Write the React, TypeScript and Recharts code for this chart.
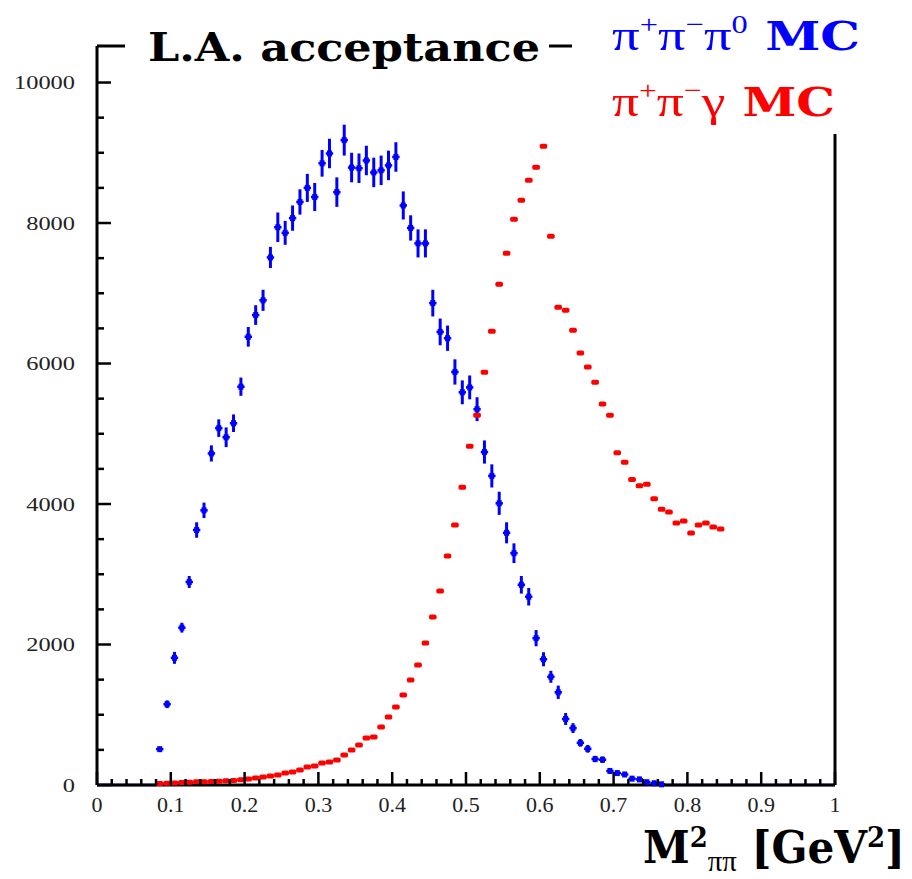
import { ErrorBar, ReferenceLine, Scatter, ScatterChart, XAxis, YAxis } from "recharts";

// bin centres of M^2_pipi [GeV^2]
const bins = [
    0.085, 0.095, 0.105, 0.115, 0.125, 0.135, 0.145, 0.155, 0.165, 0.175,
    0.185, 0.195, 0.205, 0.215, 0.225, 0.235, 0.245, 0.255, 0.265, 0.275,
    0.285, 0.295, 0.305, 0.315, 0.325, 0.335, 0.345, 0.355, 0.365, 0.375,
    0.385, 0.395, 0.405, 0.415, 0.425, 0.435, 0.445, 0.455, 0.465, 0.475,
    0.485, 0.495, 0.505, 0.515, 0.525, 0.535, 0.545, 0.555, 0.565, 0.575,
    0.585, 0.595, 0.605, 0.615, 0.625, 0.635, 0.645, 0.655, 0.665, 0.675,
    0.685, 0.695, 0.705, 0.715, 0.725, 0.735, 0.745, 0.755, 0.765, 0.775,
    0.785, 0.795, 0.805, 0.815, 0.825, 0.835, 0.845,
];

// empty bins of the pi+pi-pi0 histogram (drawn as a flat line on the axis)
const blueEmptyBins = [
    0.005, 0.015, 0.025, 0.035, 0.045, 0.055, 0.065, 0.075,
    0.855, 0.865, 0.875, 0.885, 0.895, 0.905, 0.915, 0.925, 0.935, 0.945,
    0.955, 0.965, 0.975, 0.985, 0.995,
];

// pi+pi-pi0 MC
const blueCounts = [
    510, 1150, 1810, 2240, 2890, 3630, 3910, 4720, 5080, 4950,
    5150, 5670, 6380, 6690, 6900, 7510, 7940, 7860, 8070, 8300,
    8500, 8370, 8850, 8990, 8440, 9180, 8790, 8780, 8890, 8720,
    8750, 8820, 8940, 8250, 7930, 7710, 7710, 6860, 6450, 6360,
    5880, 5590, 5660, 5350, 4740, 4400, 4010, 3590, 3300, 2850,
    2680, 2090, 1790, 1540, 1320, 940, 810, 600, 515, 370,
    360, 200, 170, 150, 90, 80, 40, 25, 10, 0,
    0, 0, 0, 0, 0, 0, 0,
];

const blueErr = [
    30, 55, 85, 70, 85, 110, 110, 115, 125, 140,
    125, 130, 140, 140, 150, 150, 210, 170, 180, 180,
    200, 200, 190, 210, 210, 220, 210, 210, 210, 210,
    210, 210, 210, 200, 180, 200, 200, 190, 190, 180,
    180, 170, 170, 170, 165, 165, 165, 150, 140, 125,
    125, 115, 100, 85, 95, 85, 70, 55, 55, 45,
    45, 40, 35, 30, 25, 25, 20, 15, 10, 0,
    0, 0, 0, 0, 0, 0, 0,
];

// pi+pi-gamma MC
const redCounts = [
    20, 25, 30, 35, 40, 45, 45, 50, 55, 60,
    65, 75, 85, 100, 114, 128, 142, 171, 185, 213,
    256, 270, 313, 327, 356, 427, 498, 569, 669, 683,
    825, 968, 1110, 1281, 1494, 1708, 2021, 2391, 2761, 3259,
    3700, 4240, 4824, 5265, 5877, 6460, 7129, 7570, 8054, 8325,
    8609, 8794, 9093, 7812, 6800, 6760, 6475, 6150, 5950, 5735,
    5422, 5265, 4730, 4596, 4350, 4260, 4283, 4075, 3927, 3885,
    3728, 3757, 3586, 3700, 3728, 3671, 3643,
];

const xMajorTicks = [0, 0.1, 0.2, 0.3, 0.4, 0.5, 0.6, 0.7, 0.8, 0.9, 1];
const yMajorTicks = [0, 2000, 4000, 6000, 8000, 10000];

const HALF_BIN = 0.005;
const Y_MAX = 10520;
const GREEK = "Liberation Serif";

const xTicks: number[] = [];
for (let i = 0; i <= 50; i++) xTicks.push(Math.round(i * 2) / 100);
const yTicks: number[] = [];
for (let i = 0; i <= 20; i++) yTicks.push(i * 500);

const blueData = [
    ...blueEmptyBins.map((m) => ({ m, n: 0, ex: HALF_BIN, ey: 0, empty: true })),
    ...bins.map((m, i) => ({ m, n: blueCounts[i], ex: HALF_BIN, ey: blueErr[i], empty: blueCounts[i] === 0 })),
];
const redData = bins.map((m, i) => ({ m, n: redCounts[i], ex: HALF_BIN }));

const isMajorX = (v: number) => xMajorTicks.some((t) => Math.abs(t - v) < 1e-6);

function XTick(props: any) {
    const { x, y, payload } = props;
    const v = payload.value as number;
    const major = isMajorX(v);
    const label = v === 0 ? "0" : v === 1 ? "1" : v.toFixed(1);
    return (
        <g>
            <line x1={x} x2={x} y1={y} y2={y - (major ? 13 : 6)} stroke="#000" strokeWidth={2.5} />
            {major && (
                <text x={x} y={y + 27} textAnchor="middle" fontFamily="Liberation Serif" fontSize={22} fill="#222">
                    {label}
                </text>
            )}
        </g>
    );
}

function YTick(props: any) {
    const { x, y, payload } = props;
    const v = payload.value as number;
    const major = yMajorTicks.includes(v);
    const label = String(v);
    return (
        <g>
            <line x1={x} x2={x + (major ? 14 : 7)} y1={y} y2={y} stroke="#000" strokeWidth={2.5} />
            {major && (
                <text
                    x={x - 22}
                    y={y + 6.5}
                    textAnchor="end"
                    fontFamily="Liberation Serif"
                    fontSize={19}
                    fill="#222"
                    textLength={label.length * 12.2}
                    lengthAdjust="spacingAndGlyphs"
                >
                    {label}
                </text>
            )}
        </g>
    );
}

function BlueMarker(props: any) {
    const { cx, cy, payload } = props;
    if (payload?.empty) return <g />;
    return <rect x={cx - 2.5} y={cy - 3} width={5} height={6} fill="#0000ff" />;
}

function RedMarker(props: any) {
    const { cx, cy } = props;
    return <rect x={cx - 3.5} y={cy - 2.5} width={7} height={5} rx={1.5} fill="#ff0000" />;
}

export default function App() {
    return (
        <div style={{ position: "absolute", left: 0, top: 0, width: 912, height: 879, background: "#fff" }}>
            <ScatterChart width={912} height={879} margin={{ top: 46, right: 77, bottom: 54, left: 37 }}>
                <XAxis
                    type="number"
                    dataKey="m"
                    domain={[0, 1]}
                    ticks={xTicks}
                    interval={0}
                    height={40}
                    tickSize={0}
                    tickMargin={0}
                    tickLine={false}
                    axisLine={{ stroke: "#000", strokeWidth: 3 }}
                    tick={(p: any) => <XTick {...p} />}
                />
                <YAxis
                    type="number"
                    dataKey="n"
                    domain={[0, Y_MAX]}
                    ticks={yTicks}
                    interval={0}
                    width={60}
                    tickSize={0}
                    tickMargin={0}
                    tickLine={false}
                    axisLine={{ stroke: "#000", strokeWidth: 3 }}
                    tick={(p: any) => <YTick {...p} />}
                />
                <ReferenceLine y={Y_MAX} stroke="#000" strokeWidth={3} />
                <ReferenceLine x={1} stroke="#000" strokeWidth={3} />
                <Scatter data={blueData} shape={<BlueMarker />} isAnimationActive={false}>
                    <ErrorBar dataKey="ex" direction="x" width={0} stroke="#0000ff" strokeWidth={2.5} />
                    <ErrorBar dataKey="ey" direction="y" width={0} stroke="#0000ff" strokeWidth={3} />
                </Scatter>
                <Scatter data={redData} shape={<RedMarker />} isAnimationActive={false}>
                    <ErrorBar dataKey="ex" direction="x" width={0} stroke="#ff0000" strokeWidth={3} />
                </Scatter>
            </ScatterChart>

            <svg width={912} height={879} style={{ position: "absolute", left: 0, top: 0, pointerEvents: "none" }}>
                {/* title box breaks the top frame line */}
                <rect x={125} y={18} width={424} height={58} fill="#fff" />
                <text
                    x={148}
                    y={61}
                    fontFamily="DejaVu Serif"
                    fontWeight="bold"
                    fontSize={40}
                    fill="#000"
                    textLength={392}
                    lengthAdjust="spacingAndGlyphs"
                >
                    L.A. acceptance
                </text>

                {/* legend box */}
                <rect x={572} y={0} width={340} height={134} fill="#fff" />
                <text x={612} y={50} fontFamily={GREEK} fontSize={44} fill="#0000ff" textLength={248} lengthAdjust="spacingAndGlyphs">
                    <tspan>π</tspan>
                    <tspan fontSize={26} dy={-17}>+</tspan>
                    <tspan dy={17}>π</tspan>
                    <tspan fontSize={26} dy={-17}>−</tspan>
                    <tspan dy={17}>π</tspan>
                    <tspan fontSize={26} dy={-17}>0</tspan>
                    <tspan dy={17} fontFamily="DejaVu Serif" fontSize={40} fontWeight="bold"> MC</tspan>
                </text>
                <text x={612} y={116} fontFamily={GREEK} fontSize={44} fill="#ff0000" textLength={223} lengthAdjust="spacingAndGlyphs">
                    <tspan>π</tspan>
                    <tspan fontSize={26} dy={-17}>+</tspan>
                    <tspan dy={17}>π</tspan>
                    <tspan fontSize={26} dy={-17}>−</tspan>
                    <tspan dy={17}>γ</tspan>
                    <tspan fontFamily="DejaVu Serif" fontSize={40} fontWeight="bold"> MC</tspan>
                </text>

                {/* x-axis title */}
                <text x={643} y={863} fontFamily="DejaVu Serif" fontWeight="bold" fontSize={44} fill="#000" textLength={262} lengthAdjust="spacingAndGlyphs">
                    <tspan>M</tspan>
                    <tspan fontSize={27} dy={-16}>2</tspan>
                    <tspan fontSize={30} fontFamily={GREEK} fontWeight="normal" dy={24}>ππ</tspan>
                    <tspan dy={-8}> [GeV</tspan>
                    <tspan fontSize={27} dy={-16}>2</tspan>
                    <tspan dy={16}>]</tspan>
                </text>
            </svg>
        </div>
    );
}
